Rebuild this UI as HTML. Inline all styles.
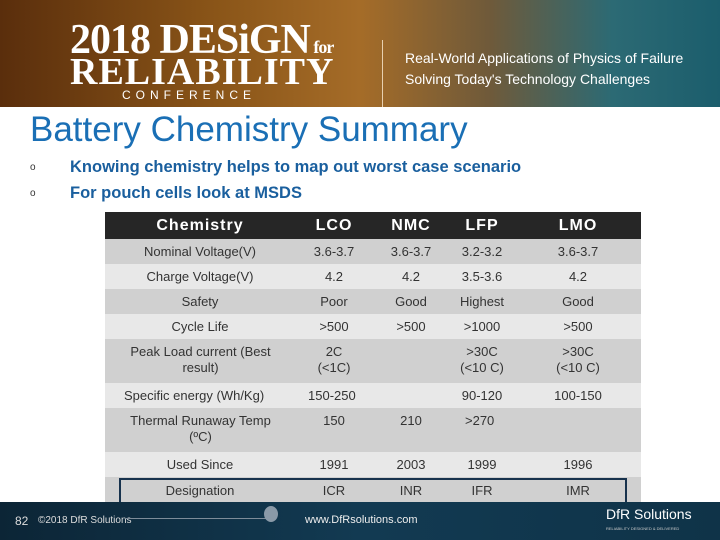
<!DOCTYPE html>
<html><head><meta charset="utf-8"><style>
*{margin:0;padding:0;box-sizing:border-box}
body{width:720px;height:540px;position:relative;overflow:hidden;background:#fff;font-family:"Liberation Sans",sans-serif}
.a{position:absolute;white-space:nowrap}
.row{position:absolute;left:105px;width:536px}
.c{position:absolute;text-align:center;font-size:13px;color:#333;line-height:16px}
.l{text-align:left}
.h{color:#fff;font-size:16px;font-weight:bold;letter-spacing:1px}
</style></head><body>
<div class="a" style="left:0;top:0;width:720px;height:107px;background:linear-gradient(90deg,#5a2e0c 0%,#8a5518 30%,#a56c28 50%,#6f5a3a 68%,#2c6a74 85%,#1b5d6c 100%)">
  <div class="a" style="left:70px;top:16px;font-family:'Liberation Serif',serif;font-weight:bold;font-size:42px;color:#fff;letter-spacing:-1px">2018 DESiGN<span style="font-size:18px"> for</span></div>
  <div class="a" style="left:70px;top:50px;font-family:'Liberation Serif',serif;font-weight:bold;font-size:38px;color:#fff;letter-spacing:1px">RELIABILITY</div>
  <div class="a" style="left:122px;top:88px;font-size:12px;color:#fff;letter-spacing:5px">CONFERENCE</div>
  <div class="a" style="left:382px;top:40px;width:1px;height:67px;background:#e8d0b0"></div>
  <div class="a" style="left:405px;top:48px;font-size:14px;color:#fff;line-height:21px">Real-World Applications of Physics of Failure<br>Solving Today's Technology Challenges</div>
</div>
<div class="a" style="left:30px;top:110px;font-size:35px;color:#1a6fb5">Battery Chemistry Summary</div>
<div class="a" style="left:30px;top:158px;font-size:16px;font-weight:bold;color:#1a5f9e"><span style="font-size:10px;color:#333;font-weight:normal;position:relative;top:-1px">o</span><span style="position:absolute;left:40px;font-size:16.5px">Knowing chemistry helps to map out worst case scenario</span></div>
<div class="a" style="left:30px;top:184px;font-size:16px;font-weight:bold;color:#1a5f9e"><span style="font-size:10px;color:#333;font-weight:normal;position:relative;top:-1px">o</span><span style="position:absolute;left:40px;font-size:16.5px">For pouch cells look at MSDS</span></div>

<div class="row" style="top:212px;height:27px;background:#262626">
 <div class="c h" style="left:20px;width:150px;top:6px">Chemistry</div>
 <div class="c h" style="left:189px;width:80px;top:6px">LCO</div>
 <div class="c h" style="left:266px;width:80px;top:6px">NMC</div>
 <div class="c h" style="left:337px;width:80px;top:6px">LFP</div>
 <div class="c h" style="left:433px;width:80px;top:6px">LMO</div>
</div>
<div class="row" style="top:239px;height:25px;background:#d0d0d0">
 <div class="c" style="left:20px;width:150px;top:5px">Nominal Voltage(V)</div>
 <div class="c" style="left:189px;width:80px;top:5px">3.6-3.7</div><div class="c" style="left:266px;width:80px;top:5px">3.6-3.7</div><div class="c" style="left:337px;width:80px;top:5px">3.2-3.2</div><div class="c" style="left:433px;width:80px;top:5px">3.6-3.7</div>
</div>
<div class="row" style="top:264px;height:25px;background:#e8e8e8">
 <div class="c" style="left:20px;width:150px;top:5px">Charge Voltage(V)</div>
 <div class="c" style="left:189px;width:80px;top:5px">4.2</div><div class="c" style="left:266px;width:80px;top:5px">4.2</div><div class="c" style="left:337px;width:80px;top:5px">3.5-3.6</div><div class="c" style="left:433px;width:80px;top:5px">4.2</div>
</div>
<div class="row" style="top:289px;height:25px;background:#d0d0d0">
 <div class="c" style="left:20px;width:150px;top:5px">Safety</div>
 <div class="c" style="left:189px;width:80px;top:5px">Poor</div><div class="c" style="left:266px;width:80px;top:5px">Good</div><div class="c" style="left:337px;width:80px;top:5px">Highest</div><div class="c" style="left:433px;width:80px;top:5px">Good</div>
</div>
<div class="row" style="top:314px;height:25px;background:#e8e8e8">
 <div class="c" style="left:20px;width:150px;top:5px">Cycle Life</div>
 <div class="c" style="left:189px;width:80px;top:5px">&gt;500</div><div class="c" style="left:266px;width:80px;top:5px">&gt;500</div><div class="c" style="left:337px;width:80px;top:5px">&gt;1000</div><div class="c" style="left:433px;width:80px;top:5px">&gt;500</div>
</div>
<div class="row" style="top:339px;height:44px;background:#d0d0d0">
 <div class="c" style="left:18px;width:155px;top:5px">Peak Load current (Best<br>result)</div>
 <div class="c" style="left:189px;width:80px;top:5px">2C<br>(&lt;1C)</div><div class="c" style="left:337px;width:80px;top:5px">&gt;30C<br>(&lt;10 C)</div><div class="c" style="left:433px;width:80px;top:5px">&gt;30C<br>(&lt;10 C)</div>
</div>
<div class="row" style="top:383px;height:25px;background:#e8e8e8">
 <div class="c l" style="left:19px;top:5px">Specific energy (Wh/Kg)</div>
 <div class="c l" style="left:203px;top:5px">150-250</div><div class="c" style="left:337px;width:80px;top:5px">90-120</div><div class="c" style="left:433px;width:80px;top:5px">100-150</div>
</div>
<div class="row" style="top:408px;height:44px;background:#d0d0d0">
 <div class="c" style="left:18px;width:155px;top:5px">Thermal Runaway Temp<br>(ºC)</div>
 <div class="c" style="left:189px;width:80px;top:5px">150</div><div class="c" style="left:266px;width:80px;top:5px">210</div><div class="c l" style="left:360px;top:5px">&gt;270</div>
</div>
<div class="row" style="top:452px;height:25px;background:#e8e8e8">
 <div class="c" style="left:20px;width:150px;top:5px">Used Since</div>
 <div class="c" style="left:189px;width:80px;top:5px">1991</div><div class="c" style="left:266px;width:80px;top:5px">2003</div><div class="c" style="left:337px;width:80px;top:5px">1999</div><div class="c" style="left:433px;width:80px;top:5px">1996</div>
</div>
<div class="row" style="top:477px;height:26px;background:#d0d0d0">
 <div class="a" style="left:14px;top:1px;width:508px;height:27px;border:2px solid #17324d"></div>
 <div class="c" style="left:20px;width:150px;top:6px">Designation</div>
 <div class="c" style="left:189px;width:80px;top:6px">ICR</div><div class="c" style="left:266px;width:80px;top:6px">INR</div><div class="c" style="left:337px;width:80px;top:6px">IFR</div><div class="c" style="left:433px;width:80px;top:6px">IMR</div>
</div>

<div class="a" style="left:0;top:502px;width:720px;height:38px;background:linear-gradient(90deg,#0c2536 0%,#123a52 50%,#0f3348 100%)">
 <div class="a" style="left:15px;top:12px;font-size:12px;color:#ddd">82</div>
 <div class="a" style="left:38px;top:13px;font-size:10px;color:#ddd">©2018 DfR Solutions</div>
 <div class="a" style="left:125px;top:16px;width:145px;height:1px;background:#7d8c99"></div>
 <div class="a" style="left:264px;top:4px;width:14px;height:16px;border-radius:50%;background:#8a9aa8"></div>
 <div class="a" style="left:305px;top:12px;font-size:11px;color:#eee">www.DfRsolutions.com</div>
 <div class="a" style="left:606px;top:4px;font-size:14px;color:#fff">DfR Solutions</div>
 <div class="a" style="left:606px;top:24px;font-size:4px;color:#ccc">RELIABILITY DESIGNED &amp; DELIVERED</div>
</div>
</body></html>
